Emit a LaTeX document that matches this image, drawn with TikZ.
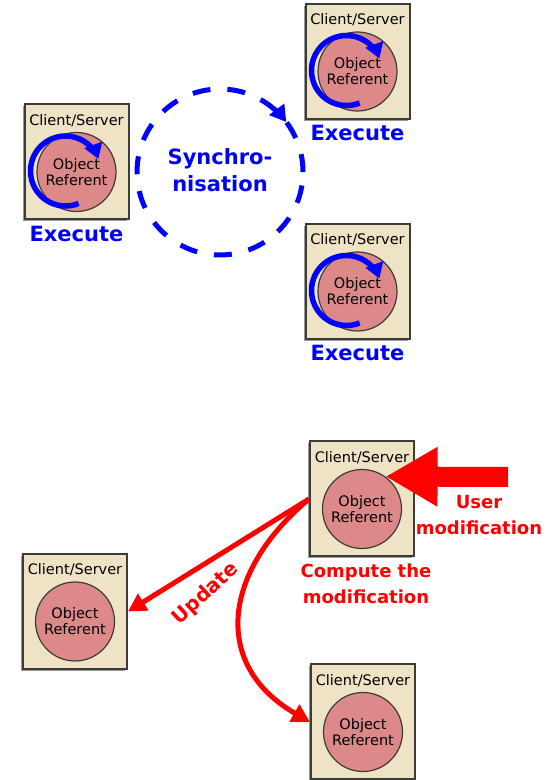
\documentclass[tikz,border=0pt]{standalone}
\usepackage{fontspec}
\setmainfont{DejaVu Sans}
\newfontfamily\boxfont{DejaVu Sans}
\usetikzlibrary{positioning}
\usetikzlibrary{arrows.meta}
\usetikzlibrary{shadows}

\definecolor{boxbeige}{RGB}{239,227,197}
\definecolor{objpink}{RGB}{221,137,137}
\definecolor{boxline}{RGB}{60,60,55}

\tikzset{
  csbox/.style={draw=boxline, line width=2pt, fill=boxbeige, minimum width=104pt, minimum height=115pt, inner sep=0pt,
    drop shadow={shadow xshift=-2pt, shadow yshift=-2pt, fill=gray!80, opacity=1}},
  objref/.style={circle, draw=boxline, line width=1.2pt, fill=objpink, minimum size=79pt, inner sep=0pt, align=center, font=\boxfont\fontsize{14.5}{16}\selectfont},
  cstext/.style={inner sep=0pt, font=\boxfont\fontsize{14.5}{16}\selectfont},
  bluetext/.style={text=blue, align=center, font=\bfseries\fontsize{21}{27}\selectfont},
  redtext/.style={text=red, align=center, font=\bfseries\fontsize{18}{26}\selectfont},
}

\begin{document}
\begin{tikzpicture}[x=1pt, y=1pt]
	\useasboundingbox (0,0) rectangle (556,780);

	% the Client/Server boxes
	\foreach \n/\x/\y in {a/76.5/618, b/357.5/718.5, c/357.5/498.5, d/362/281, e/75/168.5, f/363/58}{
		\node[csbox] (\n) at (\x,\y) {};
		\node[objref] (\n-obj) at ([yshift=-10pt]\n.center) {Object\\Referent};
		\node[cstext] (\n-cs) at ([yshift=-17pt]\n.north) {Client/Server};
	}

	% synchronisation (top)
	\node[bluetext] (sync) at (220,610) {Synchro-\\nisation};
	\draw[blue, line width=5pt, dash pattern=on 18pt off 17pt] (220,608) circle (83pt);
	\draw[blue, line width=5pt, -{Triangle[length=16pt,width=18pt]}] ([shift={(50:83pt)}]220,608) arc[start angle=50, end angle=37, radius=83pt];

	\foreach \n in {a,b,c}{
		\draw[blue, line width=5.5pt, -{Triangle[length=15pt,width=18pt]}] ([shift={(-11pt,1pt)}]\n-obj.center) ++(-68:35pt) arc[start angle=-68, end angle=-340, radius=35pt];
		\node[bluetext] (\n-ex) at ([yshift=-13pt]\n.south) {Execute};
	}

	% modification (bottom)
	\coordinate (user) at (508,303);
	\draw[red, line width=20pt, -{Triangle[length=52pt,width=56pt]}] (user) -- (d-obj.54);
	\node[redtext] (usermod) at (479,265) {User\\modification};
	\node[redtext] (compute) at (366,196) {Compute the\\modification};

	\draw[red, line width=5pt, -{Triangle[length=18pt,width=19pt]}] (d.west) -- (e.east);
	\draw[red, line width=5pt, -{Triangle[length=18pt,width=19pt]}] (d.west) to[out=220, in=150, looseness=1.3] (f.west);
	\node[redtext, font=\bfseries\fontsize{20}{24}\selectfont, rotate=43] (update) at (206,186) {Update};
\end{tikzpicture}
\end{document}
